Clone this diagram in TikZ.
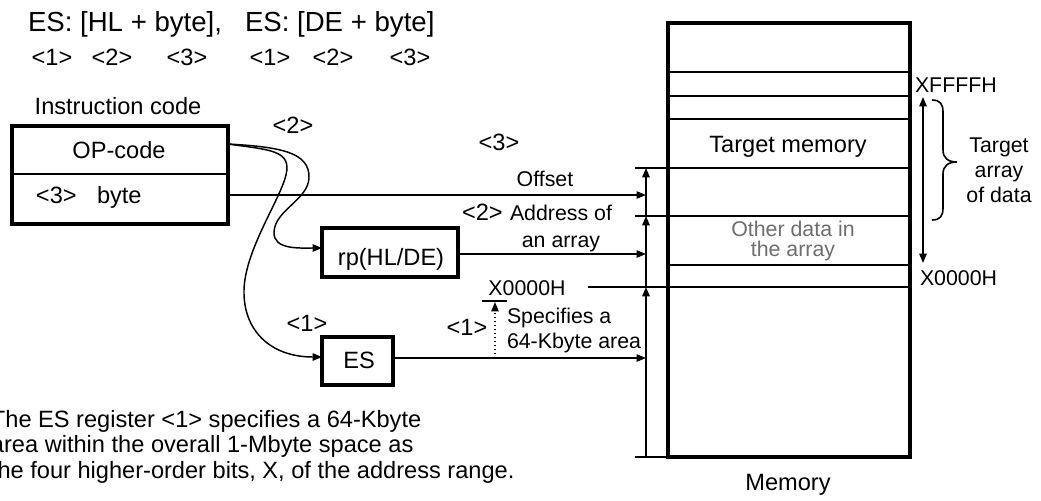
\documentclass[tikz,border=0pt]{standalone}
\usepackage{fontspec}
\setmainfont{Liberation Sans}
\usetikzlibrary{arrows.meta}
\definecolor{graytext}{HTML}{6E6E6E}
\begin{document}
\begin{tikzpicture}[x=0.75pt,y=-0.75pt,
  big/.style={font=\fontsize{17.7}{20}\selectfont, inner sep=0pt, outer sep=0pt},
  small/.style={font=\fontsize{16}{18}\selectfont, inner sep=0pt, outer sep=0pt},
  ttl/.style={font=\fontsize{20.7}{24}\selectfont, inner sep=0pt, outer sep=0pt},
  box/.style={draw, line width=2.8pt, inner sep=0pt},
  tipA/.style={-{Triangle[length=7pt,width=5.5pt]}},
  harrow/.style={tipA, line width=0.9pt},
  varrow/.style={tipA, line width=1.4pt},
  curve/.style={tipA, line width=1.1pt},
  thinline/.style={line width=1.2pt},
]
\fill[white] (0,0) rectangle (1041,500);
\useasboundingbox (0,0) rectangle (1041,500);

% title
\node[ttl, anchor=base west] (ttlA) at (28,31) {ES: [HL + byte],};
\node[ttl, anchor=base west] (ttlB) at (245,31) {ES: [DE + byte]};
\node[big, anchor=base] (r1) at (52,65) {<1>};
\node[big, anchor=base] (r2) at (112,65) {<2>};
\node[big, anchor=base] (r3) at (187,65) {<3>};
\node[big, anchor=base] (r4) at (270,65) {<1>};
\node[big, anchor=base] (r5) at (333,65) {<2>};
\node[big, anchor=base] (r6) at (410,65) {<3>};

% instruction code
\node[big, anchor=base] (ic) at (118,114) {Instruction code};
\node[box, minimum width=162pt, minimum height=73.5pt] (instr) at (120,175) {};
\draw[line width=1.5pt] (12,174) -- (228,174);
\node[big, anchor=base] (op) at (119,158) {OP-code};
\node[big, anchor=base west] (b3) at (36,203) {<3>};
\node[big, anchor=base west] (byte) at (97,203) {byte};
\node[big, anchor=base] (c2) at (293,133) {<2>};

% registers
\node[box, minimum width=102pt, minimum height=36.75pt] (rp) at (390,252.5) {};
\node[big, anchor=base] (rpt) at (391,265) {rp(HL/DE)};
\node[box, minimum width=53.25pt, minimum height=36pt] (es) at (357.5,361) {};
\node[big, anchor=base] (est) at (359,368) {ES};
\node[big, anchor=base] (c1) at (307,331) {<1>};

% curves
\coordinate (opOut) at (228,144);
\coordinate (rpIn) at (322,248);
\coordinate (esIn) at (322,357);
\draw[curve] (opOut) .. controls (280,147) and (310,152) .. (309,178)
  .. controls (308,200) and (275,210) .. (274,232)
  .. controls (273,250) and (300,248) .. (rpIn);
\draw[curve] (opOut) .. controls (270,150) and (292,150) .. (286,175)
  .. controls (280,200) and (245,250) .. (244,290)
  .. controls (243,330) and (270,357) .. (esIn);

% middle labels
\node[big, anchor=base] (l3) at (499,150) {<3>};
\node[small, anchor=base] (off) at (545,186) {Offset};
\node[big, anchor=base west] (l2) at (462,220) {<2>};
\node[small, anchor=base west] (addr) at (510,220) {Address of};
\node[small, anchor=base] (arr) at (561,247) {an array};
\node[small, anchor=base] (x0) at (527,295) {X0000H};
\draw[line width=1pt] (482,301) -- (507,301);
\node[big, anchor=base] (l1) at (467,335) {<1>};
\node[small, anchor=base west] (spec1) at (507,323) {Specifies a};
\node[small, anchor=base west] (spec2) at (507,348) {64-Kbyte area};

% horizontal arrows
\coordinate (offEnd) at (646,195);
\coordinate (addrEnd) at (646,254);
\coordinate (esEnd) at (646,358);
\draw[harrow] (instr.east |- offEnd) -- (offEnd);
\draw[harrow] (rp.east |- addrEnd) -- (addrEnd);
\draw[harrow] (es.east |- esEnd) -- (esEnd);
\coordinate (dotS) at (495,358);
\coordinate (dotE) at (495,302);
\draw[tipA, dotted, line width=1pt] (dotS) -- (dotE);

% memory
\node[draw, line width=2.6pt, minimum width=181.5pt, minimum height=325.5pt, inner sep=0pt] (mem) at (789,240) {};
\foreach \yy in {72,96,119,265} { \draw[thinline] (668,\yy) -- (910,\yy); }
\draw[thinline] (635,168) -- (910,168);
\draw[thinline] (635,216) -- (910,216);
\draw[thinline] (588,287) -- (910,287);
\draw[thinline] (635,457) -- (668,457);
\coordinate (m1) at (646,168);
\coordinate (m2) at (646,216);
\coordinate (m3) at (646,287);
\coordinate (m4) at (646,457);
\draw[varrow] (m2) -- (m1);
\draw[varrow] (m3) -- (m2);
\draw[varrow] (m4) -- (m3);

\node[big, anchor=base] (tm) at (788,152) {Target memory};
\node[small, anchor=base, text=graytext] (od1) at (793,236) {Other data in};
\node[small, anchor=base, text=graytext] (od2) at (793,256) {the array};
\node[small, anchor=base west] (xf) at (915,92) {XFFFFH};
\node[small, anchor=base west] (x0r) at (920,285) {X0000H};
\node[small, anchor=base] (ta1) at (999,152) {Target};
\node[small, anchor=base] (ta2) at (999,177) {array};
\node[small, anchor=base] (ta3) at (999,202) {of data};
\node[big, anchor=base] (memt) at (788,490) {Memory};

\coordinate (da1) at (923,97);
\coordinate (da2) at (923,263);
\draw[{Triangle[length=7pt,width=5.5pt]}-{Triangle[length=7pt,width=5.5pt]}, line width=1.2pt] (da1) -- (da2);
\draw[line width=1.2pt] (932,100) .. controls (940,100) and (943,104) .. (943,112) -- (943,150)
  .. controls (943,158) and (948,162) .. (957,162)
  .. controls (948,162) and (943,166) .. (943,174) -- (943,208)
  .. controls (943,216) and (940,220) .. (932,220);

% paragraph
\node[big, anchor=base west] (p1) at (-9,427) {The ES register <1> specifies a 64-Kbyte};
\node[big, anchor=base west] (p2) at (-9,452) {area within the overall 1-Mbyte space as};
\node[big, anchor=base west] (p3) at (-9,478) {the four higher-order bits, X, of the address range.};
\end{tikzpicture}
\end{document}
